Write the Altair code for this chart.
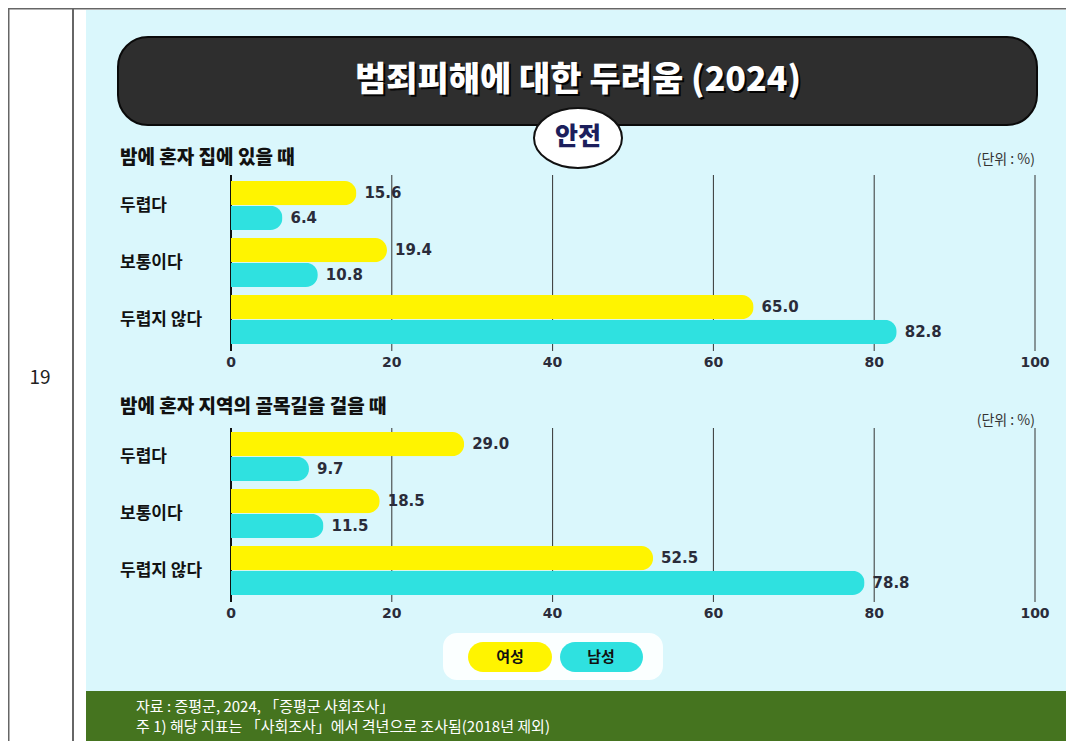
import altair as alt
import pandas as pd

# ---------------- data ----------------
categories = ["두렵다", "보통이다", "두렵지 않다"]
sexes = ["여성", "남성"]
home_female = [15.6, 19.4, 65.0]
home_male = [6.4, 10.8, 82.8]
alley_female = [29.0, 18.5, 52.5]
alley_male = [9.7, 11.5, 78.8]
ticks = [0, 20, 40, 60, 80, 100]

title = "범죄피해에 대한 두려움 (2024)"
badge = "안전"
sub1 = "밤에 혼자 집에 있을 때"
sub2 = "밤에 혼자 지역의 골목길을 걸을 때"
unit = "(단위 : %)"
foot1 = "자료 : 증평군, 2024, 「증평군 사회조사」"
foot2 = "주 1) 해당 지표는 「사회조사」에서 격년으로 조사됨(2018년 제외)"
page_no = "19"

YELLOW = "#fff400"
CYAN = "#2fe1e0"
FONT = "Noto Sans CJK KR"
NUMFONT = "DejaVu Sans"
DARK = "#2a2c3a"

W, H = 1058, 733


def panel_df(f, m):
    rows = []
    for c, a, b in zip(categories, f, m):
        rows.append({"cat": c, "sex": "여성", "value": a})
        rows.append({"cat": c, "sex": "남성", "value": b})
    return pd.DataFrame(rows)

df1 = panel_df(home_female, home_male)
df2 = panel_df(alley_female, alley_male)
cat_df = pd.DataFrame({"cat": categories})
tick_df = pd.DataFrame({"tick": ticks})
dummy = pd.DataFrame({"a": [0]})

xscale = alt.Scale(domain=[0, 100], range=[223, 1027], nice=False)


def rect(x1, y1, x2, y2, **kw):
    return alt.Chart(dummy).mark_rect(**kw).encode(
        x=alt.value(x1), x2=alt.value(x2), y=alt.value(y1), y2=alt.value(y2))


def txt(x, y, s, **kw):
    base = dict(font=FONT, baseline="middle")
    base.update(kw)
    return alt.Chart(dummy).mark_text(text=s, **base).encode(
        x=alt.value(x), y=alt.value(y))


def rule(x1, y1, x2, y2, **kw):
    return alt.Chart(dummy).mark_rule(**kw).encode(
        x=alt.value(x1), x2=alt.value(x2), y=alt.value(y1), y2=alt.value(y2))


def panel(df, yrange, rule_top, rule_bottom, tick_y):
    ysc = alt.Scale(domain=categories, range=yrange, paddingInner=0.14, paddingOuter=0.07)
    yenc = alt.Y("cat:N", scale=ysc, axis=None)
    xenc = alt.X("value:Q", scale=xscale, axis=None)
    yoff = alt.YOffset("sex:N", scale=alt.Scale(domain=sexes, paddingInner=0.03))
    xt = alt.X("tick:Q", scale=xscale, axis=None)

    grid = alt.Chart(tick_df).mark_rule(color="#333", strokeWidth=1).encode(
        x=xt, y=alt.value(rule_top), y2=alt.value(rule_bottom))
    zero = alt.Chart(tick_df).transform_filter("datum.tick == 0").mark_rule(
        color="#111", strokeWidth=2).encode(x=xt, y=alt.value(rule_top), y2=alt.value(rule_bottom))
    tlabels = alt.Chart(tick_df).mark_text(
        font=NUMFONT, fontSize=14, fontWeight="bold", color=DARK, baseline="middle").encode(
        x=xt, y=alt.value(tick_y), text=alt.Text("tick:Q"))
    bars = alt.Chart(df).mark_bar(cornerRadiusEnd=12).encode(
        x=xenc, y=yenc, yOffset=yoff,
        color=alt.Color("sex:N", scale=alt.Scale(domain=sexes, range=[YELLOW, CYAN]), legend=None))
    vlabels = alt.Chart(df).mark_text(
        align="left", baseline="middle", dx=8, font=NUMFONT, fontSize=15,
        fontWeight="bold", color=DARK).encode(
        x=xenc, y=yenc, yOffset=yoff, text=alt.Text("value:Q", format=".1f"))
    clabels = alt.Chart(cat_df).mark_text(
        align="left", baseline="middle", font=FONT, fontSize=17,
        fontWeight="bold", color="#111").encode(
        x=alt.value(112), y=yenc, text="cat:N")
    return [grid, zero, tlabels, bars, vlabels, clabels]


ellipse = "M -1 0 A 1 0.68 0 1 0 1 0 A 1 0.68 0 1 0 -1 0 Z"

layers = [
    # page frame
    rect(78, 2, W, 683, color="#daf7fc"),
    rect(78, 683, W, H, color="#45741f"),
    rule(0, 0.5, W, 0.5, color="#666", strokeWidth=2),
    rule(0.5, 0, 0.5, H, color="#666", strokeWidth=2),
    rule(65, 0, 65, H, color="#666", strokeWidth=2),
    txt(32, 370, page_no, fontSize=19, color="#222", align="center"),
    # title box
    rect(110, 29, 1029, 117, color="#2e2e2e", cornerRadius=30, stroke="#0a0a0a", strokeWidth=2),
    txt(572, 75, title, fontSize=34, fontWeight=900, color="#000", align="center", opacity=0.9),
    txt(570, 73, title, fontSize=34, fontWeight=900, color="#ffffff", align="center"),
    alt.Chart(dummy).mark_point(shape=ellipse, size=7744, filled=True, fill="#ffffff",
                                stroke="#111", strokeWidth=2, opacity=1).encode(
        x=alt.value(570), y=alt.value(130)),
    txt(570, 129, badge, fontSize=25, fontWeight=900, color="#1c1f5c", align="center"),
    # subtitles
    txt(112, 150, sub1, fontSize=19, fontWeight=900, color="#111", align="left"),
    txt(1027, 152, unit, fontSize=14, color="#333", align="right"),
    txt(112, 399, sub2, fontSize=19, fontWeight=900, color="#111", align="left"),
    txt(1027, 413, unit, fontSize=14, color="#333", align="right"),
]
layers += panel(df1, [169, 340], 167, 343, 355)
layers += panel(df2, [420, 591], 420, 594, 606)
layers += [
    # legend
    rect(435, 625, 655, 672, color="#fbffff", cornerRadius=14),
    rect(460, 634, 544, 664, color=YELLOW, cornerRadius=15),
    rect(552, 634, 635, 664, color=CYAN, cornerRadius=15),
    txt(502, 649, sexes[0], fontSize=15, fontWeight="bold", color="#111", align="center"),
    txt(593, 649, sexes[1], fontSize=15, fontWeight="bold", color="#111", align="center"),
    # footer
    txt(128, 699, foot1, fontSize=15, color="#ffffff", align="left"),
    txt(128, 719, foot2, fontSize=15, color="#ffffff", align="left"),
]

chart = alt.layer(*layers).resolve_scale(y="independent").properties(
    width=W, height=H, padding=0,
    autosize=alt.AutoSizeParams(type="none"),
    background="#ffffff",
).configure_view(strokeWidth=0)

chart.save("out.html", embed_options={"renderer": "svg", "actions": False})
